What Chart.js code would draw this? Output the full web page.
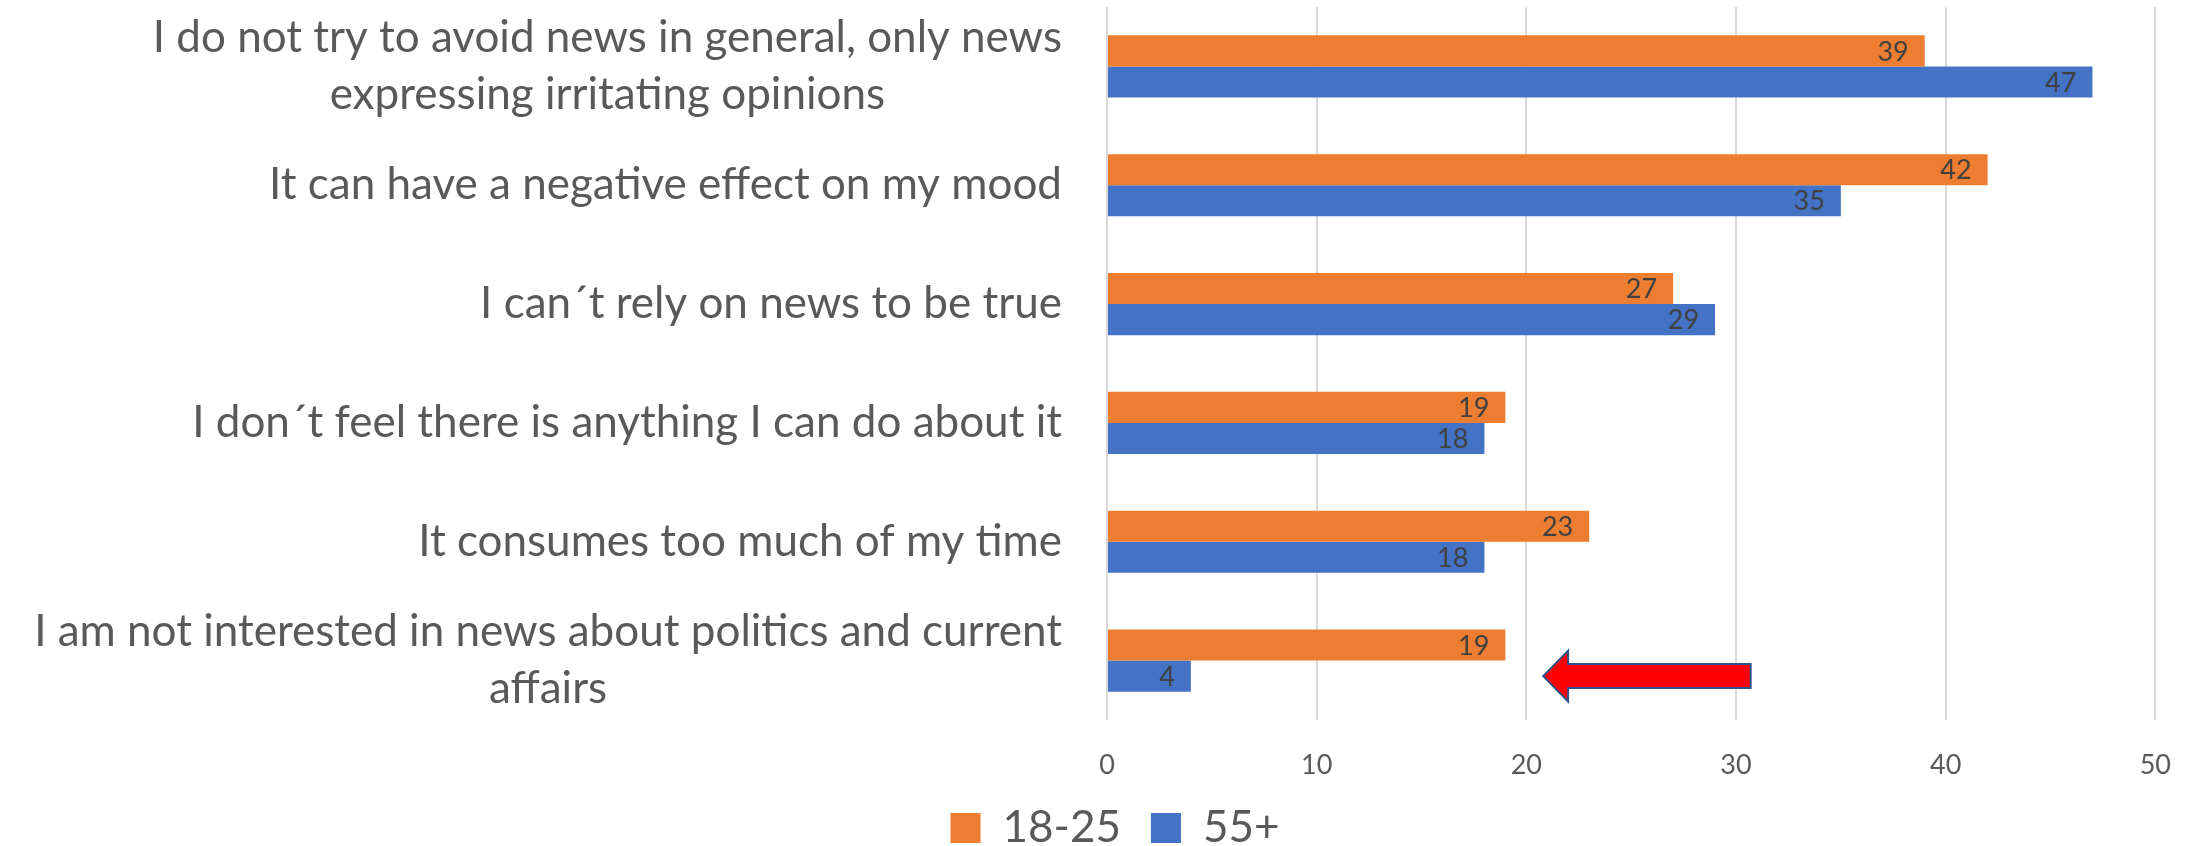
<!DOCTYPE html>
<html>
<head>
<meta charset="utf-8">
<script src="https://cdn.jsdelivr.net/npm/chart.js@4.4.1/dist/chart.umd.min.js"></script>
<style>
  html, body { margin: 0; padding: 0; background: #ffffff; }
  #wrap { width: 2200px; height: 846px; }
</style>
</head>
<body>
<div id="wrap"><canvas id="c" width="2200" height="846"></canvas></div>
<script>
// ---- data ----
const categories = [
  ["I do not try to avoid news in general, only news", "expressing irritating opinions"],
  ["It can have a negative effect on my mood"],
  ["I can\u00B4t rely on news to be true"],
  ["I don\u00B4t feel there is anything I can do about it"],
  ["It consumes too much of my time"],
  ["I am not interested in news about politics and current", "affairs"]
];
const seriesNames = ["18-25", "55+"];
const young = [39, 42, 27, 19, 23, 19];
const older = [47, 35, 29, 18, 18, 4];
const xTicks = [0, 10, 20, 30, 40, 50];
// arrow annotation (value units) pointing at the last category
const arrowTail = 30.7;
const arrowTip = 20.8;
const arrowCategory = 5;

// ---- styles ----
const FONT = "Lato, 'Open Sans', sans-serif";
const ORANGE = "#ED7D31";
const BLUE = "#4472C4";
const TEXT = "#595959";

const catLabelPlugin = {
  id: 'catLabels',
  afterDraw(chart) {
    const ctx = chart.ctx;
    const y = chart.scales.y;
    const right = 1062;
    const lh = 57;
    ctx.save();
    ctx.font = "44px " + FONT;
    ctx.fillStyle = TEXT;
    ctx.textAlign = 'center';
    ctx.textBaseline = 'middle';
    categories.forEach((lines, i) => {
      const cy = y.getPixelForValue(i);
      const w = Math.max(...lines.map(l => ctx.measureText(l).width));
      const cx = right - w / 2;
      const y0 = cy - (lines.length - 1) * lh / 2;
      lines.forEach((l, k) => ctx.fillText(l, cx, y0 + k * lh));
    });
    ctx.restore();
  }
};

const dataLabelPlugin = {
  id: 'dataLabels',
  afterDatasetsDraw(chart) {
    const ctx = chart.ctx;
    ctx.save();
    ctx.font = "27px " + FONT;
    ctx.fillStyle = "#404040";
    ctx.textAlign = 'right';
    ctx.textBaseline = 'middle';
    chart.data.datasets.forEach((ds, di) => {
      const meta = chart.getDatasetMeta(di);
      meta.data.forEach((el, i) => {
        ctx.fillText(String(ds.data[i]), el.x - 16, el.y + 1);
      });
    });
    ctx.restore();
  }
};

const arrowPlugin = {
  id: 'arrow',
  afterDatasetsDraw(chart) {
    const ctx = chart.ctx;
    const xs = chart.scales.x;
    const el = chart.getDatasetMeta(1).data[arrowCategory];
    const cy = el.y;
    const xTip = xs.getPixelForValue(arrowTip);
    const xTail = xs.getPixelForValue(arrowTail);
    const headLen = 25, headHalf = 25.5, shaftHalf = 12;
    ctx.save();
    ctx.beginPath();
    ctx.moveTo(xTip, cy);
    ctx.lineTo(xTip + headLen, cy - headHalf);
    ctx.lineTo(xTip + headLen, cy - shaftHalf);
    ctx.lineTo(xTail, cy - shaftHalf);
    ctx.lineTo(xTail, cy + shaftHalf);
    ctx.lineTo(xTip + headLen, cy + shaftHalf);
    ctx.lineTo(xTip + headLen, cy + headHalf);
    ctx.closePath();
    ctx.fillStyle = "#FF0000";
    ctx.fill();
    ctx.lineWidth = 2;
    ctx.strokeStyle = "#2F528F";
    ctx.stroke();
    ctx.restore();
  }
};

new Chart(document.getElementById('c'), {
  type: 'bar',
  data: {
    labels: categories,
    datasets: [
      { label: seriesNames[0], data: young, backgroundColor: ORANGE, borderWidth: 0 },
      { label: seriesNames[1], data: older, backgroundColor: BLUE, borderWidth: 0 }
    ]
  },
  options: {
    indexAxis: 'y',
    responsive: false,
    animation: false,
    devicePixelRatio: 1,
    layout: { padding: { top: 7, right: 33, left: 63, bottom: -14 } },
    datasets: { bar: { barPercentage: 1, categoryPercentage: 0.5225 } },
    scales: {
      x: {
        min: xTicks[0],
        max: xTicks[xTicks.length - 1],
        afterBuildTicks: (s) => { s.ticks = xTicks.map(v => ({ value: v })); },
        grid: { color: "#D9D9D9", lineWidth: 2, drawTicks: false },
        border: { display: false },
        ticks: { color: TEXT, font: { family: FONT, size: 27 }, padding: 29 },
        afterFit: (s) => { s.height = 56; }
      },
      y: {
        grid: { display: false },
        border: { display: false },
        ticks: { display: false },
        afterFit: (s) => { s.width = 1044; }
      }
    },
    plugins: {
      legend: {
        position: 'bottom',
        labels: {
          color: TEXT,
          font: { family: FONT, size: 44 },
          boxWidth: 30,
          boxHeight: 30,
          padding: 30
        }
      },
      tooltip: { enabled: false }
    }
  },
  plugins: [catLabelPlugin, dataLabelPlugin, arrowPlugin]
});
</script>
</body>
</html>
